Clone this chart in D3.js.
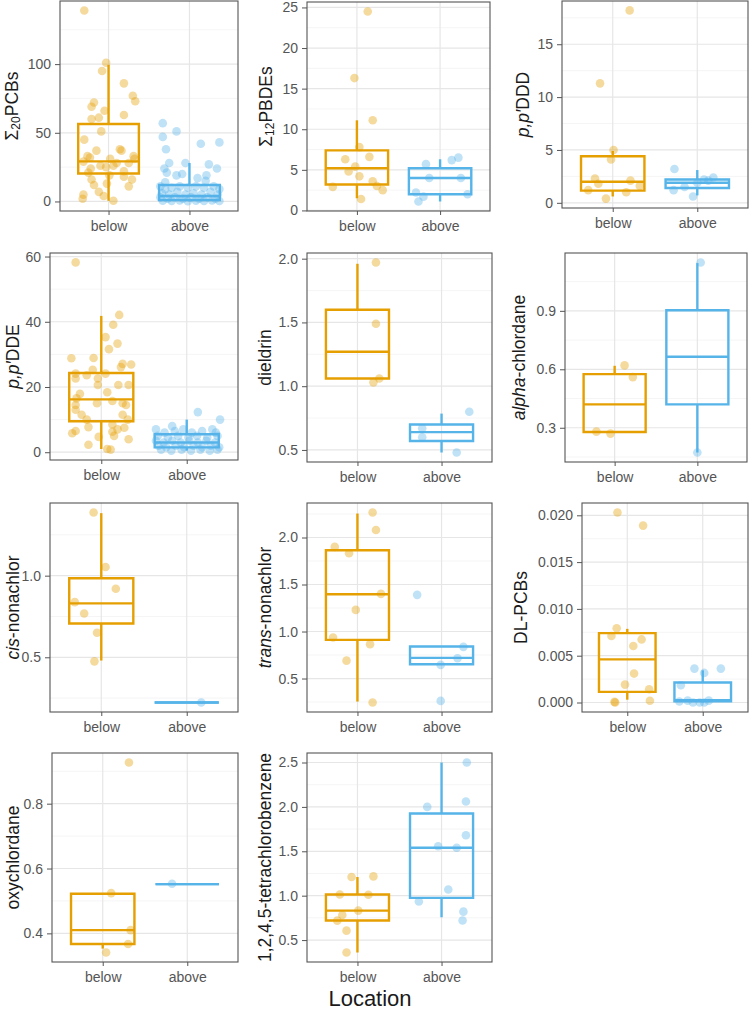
<!DOCTYPE html>
<html>
<head>
<meta charset="utf-8">
<script src="https://cdn.jsdelivr.net/npm/d3@7"></script>
<style>
body { margin: 0; background: #fff; }
text { font-family: "Liberation Sans", Arial, sans-serif; }
</style>
</head>
<body>
<div id="chart"></div>
<script>
const width = 750;
const height = 1010;

const categories = ['below', 'above'];
const colours = ['#E69F00', '#56B4E9'];

// points are [jitter offset in category units, value]; boxes are [lower whisker, q1, median, q3, upper whisker]

const pcbBelow = [[-0.30,139],[-0.03,101],[-0.08,95],[0.19,86],[0.30,77],[0.33,73],[-0.18,72],[-0.21,69],[-0.05,66],[0.19,63],[-0.21,60],[-0.12,61],[-0.09,51],[-0.30,45],[-0.15,37],[0.14,38],[0.16,37],[-0.26,33],[-0.23,32],[0.02,31],[0.31,33],[0.32,31],[-0.31,29],[0.25,28],[-0.10,26],[0.06,26],[0.10,28],[-0.03,25],[-0.22,24],[0.19,22],[-0.25,21],[0.01,19],[0.29,16],[-0.21,16],[0.19,18],[-0.18,12],[0.25,11],[-0.02,13],[-0.12,7],[-0.06,4],[-0.31,5],[-0.32,2],[0.06,0.5]];
const pcbAbove = [[-0.33,57],[-0.33,47],[-0.16,51],[0.37,43],[0.14,42],[-0.29,38],[-0.25,28],[-0.05,28],[0.24,27],[0.34,24],[-0.31,24],[-0.28,21],[-0.16,19],[-0.09,20],[0.21,19],[0.20,15],[-0.30,14],[0.10,17],[-0.36,11],[-0.30,9],[-0.22,10],[-0.12,11],[-0.02,10],[0.08,11],[0.18,10],[0.30,11],[0.37,9],[-0.34,6],[-0.25,5],[-0.15,7],[-0.05,5],[0.05,6],[0.15,5],[0.26,7],[0.35,5],[-0.36,3],[-0.27,2],[-0.18,3],[-0.08,2],[0.02,3],[0.12,2],[0.22,3],[0.32,2],[-0.33,0.5],[-0.22,0.3],[-0.12,0.8],[-0.02,0.2],[0.08,0.6],[0.18,0.4],[0.28,0.7],[0.37,0.3]];
const pcbBoxBelow = [0.5, 20.4, 29.2, 56.4, 99.5];
const pcbBoxAbove = [0, 1, 4, 12, 28];
const pcbTicks = [0, 50, 100];

const pbdeBelow = [[0.13,24.5],[-0.03,16.3],[0.19,11.1],[0.03,7.8],[-0.14,6.3],[0.15,6.6],[-0.02,5.4],[-0.10,4.8],[0.03,4.2],[0.19,3.6],[-0.29,2.9],[0.24,3.0],[0.31,2.5],[0.05,1.4]];
const pbdeAbove = [[0.14,6.2],[0.22,6.5],[-0.17,5.7],[-0.13,4.0],[0.25,4.0],[-0.29,2.2],[0.33,2.0],[-0.20,1.7],[-0.26,1.1]];
const pbdeBoxBelow = [1.5, 3.2, 5.2, 7.4, 11.1];
const pbdeBoxAbove = [1.1, 2.0, 4.0, 5.2, 6.3];
const pbdeTicks = [0, 5, 10, 15, 20, 25];

const dddBelow = [[0.20,18.2],[-0.15,11.3],[0.01,5.0],[-0.02,4.1],[-0.21,2.3],[-0.17,1.8],[0.21,2.1],[0.32,1.6],[-0.29,1.2],[0.16,1.0],[-0.08,0.4]];
const dddAbove = [[-0.27,3.2],[-0.28,1.2],[-0.05,0.6],[0.08,2.2],[0.19,2.4],[0.13,2.1],[0.0,1.9],[-0.15,1.5]];
const dddBoxBelow = [0.6, 1.15, 2.0, 4.4, 4.9];
const dddBoxAbove = [0.7, 1.4, 1.9, 2.2, 3.1];
const dddTicks = [0, 5, 10, 15];

const ddeBelow = [[-0.30,58.2],[0.21,42.1],[0.14,39.1],[0.05,35.3],[0.19,33.3],[0.09,31.6],[-0.35,28.8],[-0.09,28.9],[0.25,27.1],[0.35,26.9],[-0.10,25.3],[0.23,26.1],[-0.30,24.1],[-0.17,23.6],[0.05,24.1],[-0.04,22.6],[-0.30,22.6],[-0.04,20.6],[0.20,20.6],[0.32,20.6],[-0.25,17.9],[0.07,18.4],[-0.29,16.5],[-0.05,15.0],[0.13,15.7],[0.25,15.0],[-0.30,14.5],[0.29,14.5],[-0.30,13.0],[-0.23,11.5],[0.25,11.5],[-0.17,10.0],[0.31,10.0],[0.13,8.5],[-0.15,7.7],[0.27,7.5],[0.19,7.0],[-0.30,6.5],[-0.34,5.8],[0.13,6.3],[0.15,5.0],[-0.03,4.7],[0.32,4.0],[-0.15,2.3],[0.07,1.0],[0.11,0.8]];
const ddeAbove = [[0.13,12.3],[0.39,10.0],[-0.17,8.0],[0.30,7.0],[-0.36,7],[-0.26,6],[-0.14,6.5],[-0.04,7],[0.06,6],[0.18,6.5],[0.34,6],[-0.34,5],[-0.22,4.5],[-0.10,5],[0.02,4.5],[0.12,5],[0.24,4.5],[0.36,5],[-0.36,3.5],[-0.27,3],[-0.17,3.5],[-0.07,3],[0.03,3.5],[0.13,3],[0.23,3.5],[0.33,3],[-0.33,2],[-0.24,1.5],[-0.13,2],[-0.03,1.5],[0.08,2],[0.18,1.5],[0.28,2],[0.38,1.5],[-0.30,0.8],[-0.18,0.5],[-0.06,0.8],[0.05,0.5],[0.16,0.8],[0.27,0.5],[0.36,0.8]];
const ddeBoxBelow = [1, 9.5, 16.2, 24.3, 41.8];
const ddeBoxAbove = [0.5, 1.5, 3.0, 5.5, 10.0];
const ddeTicks = [0, 20, 40, 60];

const dieldrinBelow = [[0.22,1.97],[0.22,1.49],[0.26,1.06],[0.19,1.03]];
const dieldrinAbove = [[0.33,0.80],[-0.23,0.67],[-0.23,0.60],[0.18,0.48]];
const dieldrinBoxBelow = [1.06, 1.06, 1.27, 1.60, 1.96];
const dieldrinBoxAbove = [0.48, 0.57, 0.64, 0.70, 0.785];
const dieldrinTicks = [0.5, 1.0, 1.5, 2.0];

const alphaBelow = [[0.12,0.62],[0.22,0.56],[-0.22,0.28],[-0.05,0.27]];
const alphaAbove = [[0.04,1.148],[0,0.173]];
const alphaBoxBelow = [0.278, 0.278, 0.42, 0.575, 0.618];
const alphaBoxAbove = [0.173, 0.42, 0.664, 0.903, 1.145];
const alphaTicks = [0.3, 0.6, 0.9];

const cisBelow = [[-0.09,1.387],[0.05,1.053],[0.17,0.92],[-0.31,0.838],[-0.20,0.768],[-0.05,0.65],[-0.08,0.475]];
const cisAbove = [[0.17,0.223]];
const cisBoxBelow = [0.48, 0.707, 0.83, 0.984, 1.383];
const cisBoxAbove = [0.223, 0.223, 0.223, 0.223, 0.223];
const cisTicks = [0.5, 1.0];

const transBelow = [[0.18,2.266],[0.22,2.08],[-0.27,1.90],[-0.10,1.833],[0.28,1.40],[-0.02,1.23],[-0.29,0.936],[0.15,0.865],[-0.13,0.69],[0.18,0.245]];
const transAbove = [[-0.29,1.39],[0.26,0.837],[0.19,0.716],[-0.01,0.645],[-0.01,0.262]];
const transBoxBelow = [0.255, 0.911, 1.397, 1.865, 2.255];
const transBoxAbove = [0.645, 0.652, 0.72, 0.84, 0.84];
const transTicks = [0.5, 1.0, 1.5, 2.0];

const dlBelow = [[-0.13,0.0203],[0.21,0.0189],[-0.14,0.00794],[-0.21,0.0071],[0.19,0.00674],[0.08,0.00603],[0.09,0.00309],[-0.03,0.00191],[0.29,0.00142],[0.30,0.00018],[-0.17,0.00007],[-0.16,0.0]];
const dlAbove = [[-0.11,0.00362],[0.24,0.00362],[0.02,0.00316],[-0.29,0.00184],[-0.31,0.0001],[-0.20,0.0002],[-0.13,0.0],[-0.04,0.0],[0.02,0.0],[0.08,0.0002]];
const dlBoxBelow = [0.0003, 0.00113, 0.00461, 0.00741, 0.00787];
const dlBoxAbove = [0, 0.00014, 0.00025, 0.00213, 0.00344];
const dlTicks = [0, 0.005, 0.010, 0.015, 0.020];

const oxyBelow = [[0.31,0.927],[0.10,0.524],[0.33,0.41],[0.30,0.367],[0.04,0.341]];
const oxyAbove = [[-0.18,0.553]];
const oxyBoxBelow = [0.353, 0.367, 0.41, 0.522, 0.522];
const oxyBoxAbove = [0.552, 0.552, 0.552, 0.552, 0.552];
const oxyTicks = [0.4, 0.6, 0.8];

const tcbBelow = [[-0.07,1.21],[0.19,1.217],[-0.21,1.013],[0.13,1.01],[0.01,0.832],[-0.18,0.783],[-0.24,0.719],[-0.13,0.606],[-0.13,0.36]];
const tcbAbove = [[0.30,2.5],[0.29,2.06],[-0.17,2.0],[0.29,1.68],[-0.04,1.557],[0.18,1.54],[0.08,1.07],[-0.27,0.934],[0.26,0.82],[0.25,0.72]];
const tcbBoxBelow = [0.36, 0.72, 0.832, 1.013, 1.21];
const tcbBoxAbove = [0.757, 0.975, 1.54, 1.926, 2.5];
const tcbTicks = [0.5, 1.0, 1.5, 2.0, 2.5];

const xTitle = 'Location';

// title pieces: it = italic, sub = subscript
const panels = [
  {title: [{t:'Σ'},{t:'20',sub:true},{t:'PCBs'}], pts: [pcbBelow, pcbAbove], boxes: [pcbBoxBelow, pcbBoxAbove], ticks: pcbTicks, fmt: 'd',
   rect: [60, 1, 238, 211], titleX: 12},
  {title: [{t:'Σ'},{t:'12',sub:true},{t:'PBDEs'}], pts: [pbdeBelow, pbdeAbove], boxes: [pbdeBoxBelow, pbdeBoxAbove], ticks: pbdeTicks, fmt: 'd',
   rect: [307, 2, 490, 211], titleX: 266},
  {title: [{t:'p,p′',it:true},{t:'DDD'}], pts: [dddBelow, dddAbove], boxes: [dddBoxBelow, dddBoxAbove], ticks: dddTicks, fmt: 'd',
   rect: [562, 1, 748, 208], titleX: 523},
  {title: [{t:'p,p′',it:true},{t:'DDE'}], pts: [ddeBelow, ddeAbove], boxes: [ddeBoxBelow, ddeBoxAbove], ticks: ddeTicks, fmt: 'd',
   rect: [50, 253, 238, 460], titleX: 13},
  {title: [{t:'dieldrin'}], pts: [dieldrinBelow, dieldrinAbove], boxes: [dieldrinBoxBelow, dieldrinBoxAbove], ticks: dieldrinTicks, fmt: '.1f',
   rect: [307, 253, 492, 462], titleX: 265},
  {title: [{t:'alpha',it:true},{t:'-chlordane'}], pts: [alphaBelow, alphaAbove], boxes: [alphaBoxBelow, alphaBoxAbove], ticks: alphaTicks, fmt: '.1f',
   rect: [565, 253, 747, 462], titleX: 519},
  {title: [{t:'cis',it:true},{t:'-nonachlor'}], pts: [cisBelow, cisAbove], boxes: [cisBoxBelow, cisBoxAbove], ticks: cisTicks, fmt: '.1f',
   rect: [50, 503, 238, 712], titleX: 13},
  {title: [{t:'trans',it:true},{t:'-nonachlor'}], pts: [transBelow, transAbove], boxes: [transBoxBelow, transBoxAbove], ticks: transTicks, fmt: '.1f',
   rect: [307, 503, 492, 712], titleX: 265},
  {title: [{t:'DL-PCBs'}], pts: [dlBelow, dlAbove], boxes: [dlBoxBelow, dlBoxAbove], ticks: dlTicks, fmt: '.3f',
   rect: [582, 503, 748, 712], titleX: 521},
  {title: [{t:'oxychlordane'}], pts: [oxyBelow, oxyAbove], boxes: [oxyBoxBelow, oxyBoxAbove], ticks: oxyTicks, fmt: '.1f',
   rect: [52, 753, 238, 962], titleX: 13},
  {title: [{t:'1,2,4,5-tetrachlorobenzene'}], pts: [tcbBelow, tcbAbove], boxes: [tcbBoxBelow, tcbBoxAbove], ticks: tcbTicks, fmt: '.1f',
   rect: [307, 753, 492, 962], titleX: 265}
];

const svg = d3.select('#chart').append('svg')
  .attr('width', width).attr('height', height);

panels.forEach(drawPanel);

svg.append('text')
  .attr('x', 370).attr('y', 1006)
  .attr('text-anchor', 'middle')
  .attr('font-size', 22)
  .attr('fill', '#1a1a1a')
  .text(xTitle);

function drawPanel(p) {
  const [x0, y0, x1, y1] = p.rect;
  const g = svg.append('g');

  // ggplot style 5% expansion around everything drawn
  const vals = p.pts.flatMap(s => s.map(d => d[1])).concat(p.boxes.flat());
  const [lo, hi] = d3.extent(vals);
  const pad = (hi - lo) * 0.05;
  const y = d3.scaleLinear().domain([lo - pad, hi + pad]).range([y1, y0]);
  const x = d3.scaleLinear().domain([0.4, 2.6]).range([x0, x1]);
  const unit = x(2) - x(1);

  const step = p.ticks[1] - p.ticks[0];
  const minor = d3.range(-1, p.ticks.length)
    .map(i => p.ticks[0] + step * (i + 0.5))
    .filter(v => v > y.domain()[0] && v < y.domain()[1]);

  g.selectAll('line.minor').data(minor).enter().append('line')
    .attr('class', 'minor')
    .attr('x1', x0).attr('x2', x1)
    .attr('y1', d => y(d)).attr('y2', d => y(d))
    .attr('stroke', '#f0f0f0').attr('stroke-width', 0.7);

  g.selectAll('line.major').data(p.ticks).enter().append('line')
    .attr('class', 'major')
    .attr('x1', x0).attr('x2', x1)
    .attr('y1', d => y(d)).attr('y2', d => y(d))
    .attr('stroke', '#e6e6e6').attr('stroke-width', 1.2);

  g.selectAll('line.vmajor').data([1, 2]).enter().append('line')
    .attr('class', 'vmajor')
    .attr('x1', d => x(d)).attr('x2', d => x(d))
    .attr('y1', y0).attr('y2', y1)
    .attr('stroke', '#e6e6e6').attr('stroke-width', 1.2);

  // boxes
  p.boxes.forEach((b, i) => {
    const cx = x(i + 1);
    const bw = unit * 0.75 / 2;
    const col = colours[i];
    const bg = g.append('g').attr('stroke', col).attr('stroke-width', 2.4).attr('fill', 'none');
    bg.append('line').attr('x1', cx).attr('x2', cx).attr('y1', y(b[0])).attr('y2', y(b[1]));
    bg.append('line').attr('x1', cx).attr('x2', cx).attr('y1', y(b[3])).attr('y2', y(b[4]));
    bg.append('path')
      .attr('d', `M${cx - bw},${y(b[3])}H${cx + bw}V${y(b[1])}H${cx - bw}Z`);
    bg.append('line').attr('x1', cx - bw).attr('x2', cx + bw).attr('y1', y(b[2])).attr('y2', y(b[2]));
  });

  // jittered points
  p.pts.forEach((s, i) => {
    g.append('g').selectAll('circle').data(s).enter().append('circle')
      .attr('cx', d => x(i + 1) + d[0] * unit)
      .attr('cy', d => y(d[1]))
      .attr('r', 4.3)
      .attr('fill', colours[i])
      .attr('fill-opacity', 0.38);
  });

  g.append('rect')
    .attr('x', x0).attr('y', y0)
    .attr('width', x1 - x0).attr('height', y1 - y0)
    .attr('fill', 'none').attr('stroke', '#555').attr('stroke-width', 1.1);

  const fmt = d3.format(p.fmt);
  const ya = g.append('g')
    .attr('transform', translate(x0, 0))
    .call(d3.axisLeft(y).tickValues(p.ticks).tickFormat(fmt).tickSize(5).tickPadding(4));
  const xa = g.append('g')
    .attr('transform', translate(0, y1))
    .call(d3.axisBottom(x).tickValues([1, 2]).tickFormat(d => categories[d - 1]).tickSize(4).tickPadding(6));
  [ya, xa].forEach(a => {
    a.select('.domain').remove();
    a.selectAll('.tick line').attr('stroke', '#555');
    a.selectAll('.tick text').attr('fill', '#555').attr('font-size', 14)
      .attr('font-family', '"Liberation Sans", Arial, sans-serif');
  });

  const t = g.append('text')
    .attr('transform', translate(p.titleX, (y0 + y1) / 2) + ' rotate(-90)')
    .attr('text-anchor', 'middle')
    .attr('dominant-baseline', 'central')
    .attr('font-size', 17.5)
    .attr('fill', '#1a1a1a');
  let shifted = false;
  p.title.forEach(s => {
    const ts = t.append('tspan').text(s.t);
    if (s.it) ts.attr('font-style', 'italic');
    if (s.sub) { ts.attr('font-size', 12).attr('dy', 4); shifted = true; }
    else if (shifted) { ts.attr('dy', -4); shifted = false; }
  });
}

function translate(x, y) {
  return 'translate(' + x + ',' + y + ')';
}
</script>
</body>
</html>
